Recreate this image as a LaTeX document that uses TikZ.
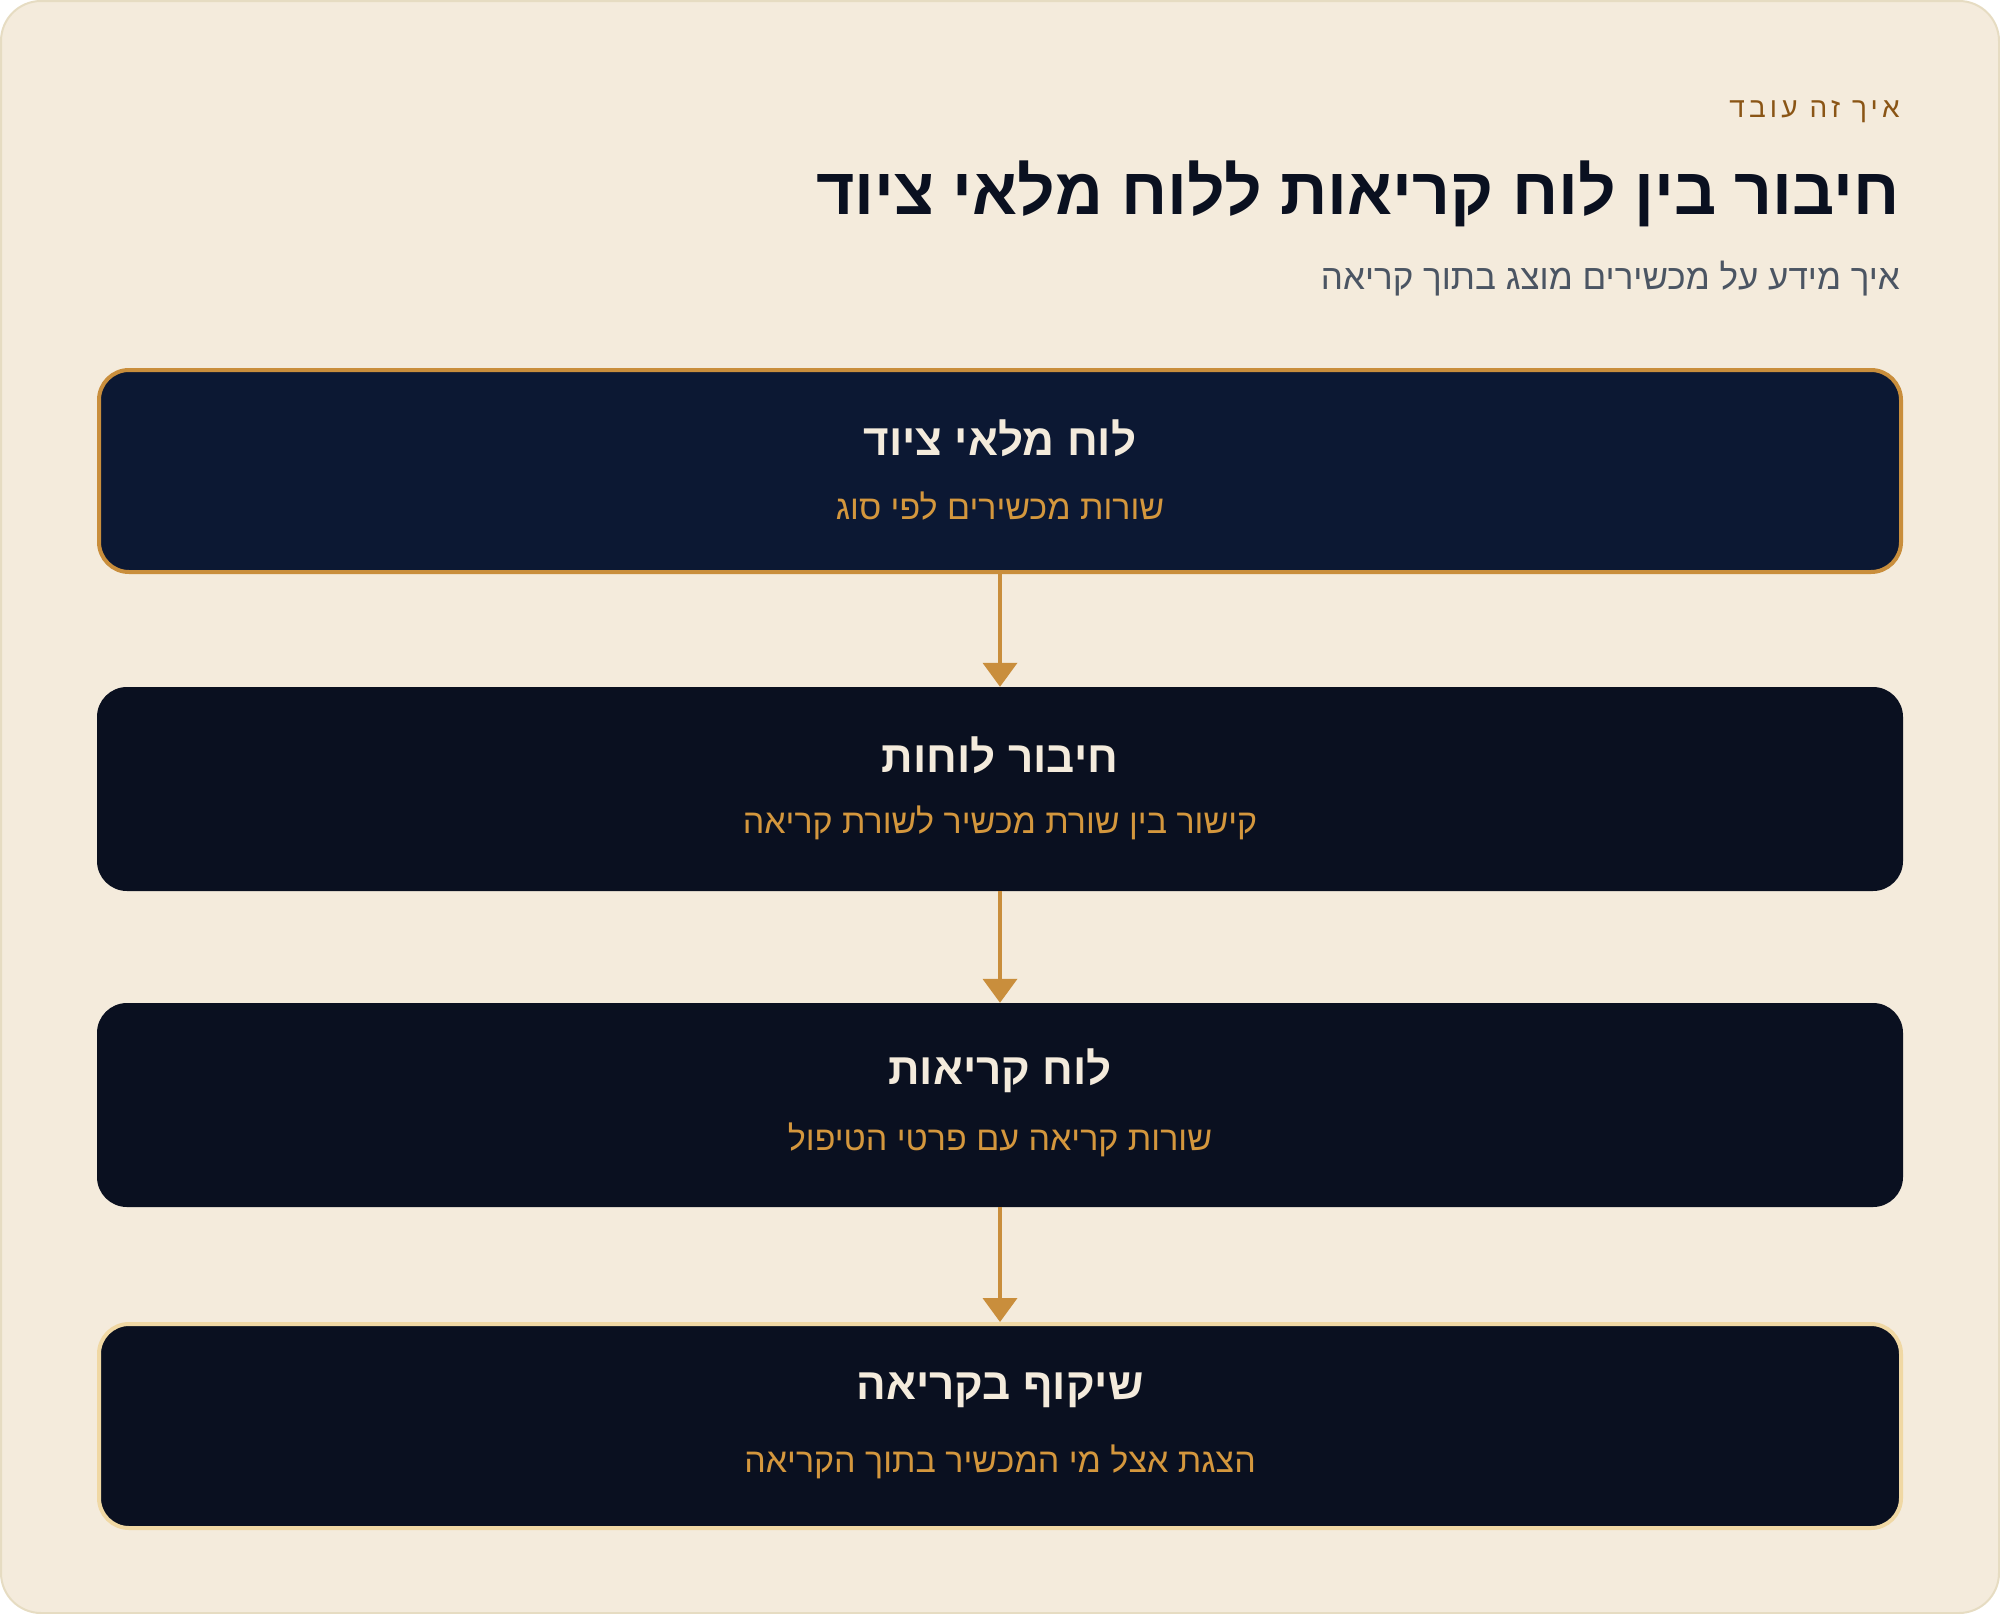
\documentclass[tikz,border=0pt]{standalone}
\usepackage{fontspec}
\usetikzlibrary{arrows.meta}
\TeXXeTstate=1
\newfontfamily\hebfont[Script=Hebrew]{Liberation Sans}
\newfontfamily\hebspaced[Script=Hebrew,LetterSpace=15]{Liberation Sans}
\newcommand{\heb}[1]{\hebfont\beginR #1\endR}
\definecolor{cream}{HTML}{F4EBDC}
\definecolor{creamline}{HTML}{E6DCC2}
\definecolor{navy}{HTML}{0C1833}
\definecolor{ink}{HTML}{0A1020}
\definecolor{gold}{HTML}{C98E3C}
\definecolor{paleGold}{HTML}{F0D8A4}
\definecolor{brown}{HTML}{8A5515}
\definecolor{slate}{HTML}{4B5563}
\definecolor{subGold}{HTML}{D4973D}

\begin{document}
\begin{tikzpicture}[x=1pt,y=-1pt]
\tikzstyle{stepbox}=
[
    %Dark rounded card for one stage
    rectangle, rounded corners=30pt,
    minimum width=1806pt, minimum height=204pt,
    fill=ink, draw=none, inner sep=0pt
    ]
\tikzstyle{cardtitle}=
[
    %Bold cream heading inside a card
    text=cream, font=\fontsize{44}{50}\selectfont\bfseries, inner sep=0pt
    ]
\tikzstyle{cardsub}=
[
    %Gold line under the heading
    text=subGold, font=\fontsize{34}{40}\selectfont, inner sep=0pt
    ]
\tikzstyle{flow}=
[
    draw=gold, line width=4pt,
    -{Triangle[width=34pt,length=24pt]}
    ]

%Page and header
\useasboundingbox (0,0) rectangle (2000,1614);
\draw[fill=cream, draw=creamline, line width=2pt, rounded corners=40pt] (1,1) rectangle (1999,1613);
\node[anchor=east, text=brown, inner sep=0pt, font=\fontsize{28}{32}\selectfont] (kicker) at (1900,112) {\hebspaced\beginR איך זה עובד\endR};
\node[anchor=east, text=ink, inner sep=0pt, font=\fontsize{66}{74}\selectfont\bfseries] (headline) at (1900,194) {\heb{חיבור בין לוח קריאות ללוח מלאי ציוד}};
\node[anchor=east, text=slate, inner sep=0pt, font=\fontsize{35}{40}\selectfont] (subline) at (1900,279) {\heb{איך מידע על מכשירים מוצג בתוך קריאה}};

%Stages
\node[stepbox, fill=navy, draw=gold, line width=4pt, minimum width=1802pt, minimum height=202pt] (inventory) at (1000,471) {};
\node[stepbox] (link) at (1000,789) {};
\node[stepbox] (calls) at (1000,1105) {};
\node[stepbox, draw=paleGold, line width=4pt, minimum width=1802pt, minimum height=204pt] (mirror) at (1000,1426) {};

\node[cardtitle] (inventoryT) at (1000,438) {\heb{לוח מלאי ציוד}};
\node[cardsub] (inventoryS) at (1000,506) {\heb{שורות מכשירים לפי סוג}};
\node[cardtitle] (linkT) at (1000,755) {\heb{חיבור לוחות}};
\node[cardsub] (linkS) at (1000,823) {\heb{קישור בין שורת מכשיר לשורת קריאה}};
\node[cardtitle] (callsT) at (1000,1071) {\heb{לוח קריאות}};
\node[cardsub] (callsS) at (1000,1140) {\heb{שורות קריאה עם פרטי הטיפול}};
\node[cardtitle] (mirrorT) at (1000,1390) {\heb{שיקוף בקריאה}};
\node[cardsub] (mirrorS) at (1000,1462) {\heb{הצגת אצל מי המכשיר בתוך הקריאה}};

%Arrows
\draw[flow] (inventory) -- (link);
\draw[flow] (link) -- (calls);
\draw[flow] (calls) -- (mirror);
\end{tikzpicture}
\end{document}
